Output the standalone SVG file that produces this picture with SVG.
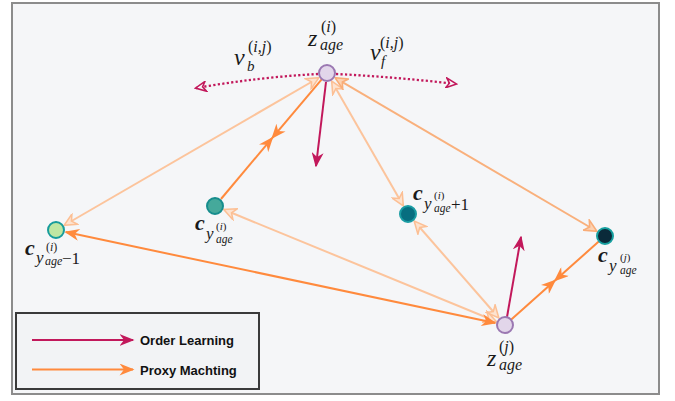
<svg xmlns="http://www.w3.org/2000/svg" width="675" height="401" viewBox="0 0 675 401">
<style>
.frame{fill:#f5f6f8;stroke:#8c8c8c;stroke-width:2}
.legend{fill:#f2f3f5;stroke:#3a3a3a;stroke-width:2}
.ord{stroke:#c2185b;stroke-width:2;fill:none}
.dot{stroke:#c2185b;stroke-width:2.3;fill:none;stroke-dasharray:2.2 2.3}
.lt{stroke:#fcc49c;stroke-width:2;fill:none}
.md{stroke:#f9b07c;stroke-width:2;fill:none}
.pm{stroke:#ff8a3d;stroke-width:2;fill:none}
.m{font-family:"Liberation Serif",serif;font-style:italic;fill:#1a1a1a}
.n{font-style:normal}
.b{font-weight:bold}
.lg{font-family:"Liberation Sans",Arial,sans-serif;font-weight:bold;font-size:13px;fill:#111}
.nz{fill:#e2d6ea;stroke:#9b78b2;stroke-width:2}
</style>
<defs>
<marker id="ac" viewBox="0 0 10 8" refX="9" refY="4" markerWidth="15" markerHeight="12" markerUnits="userSpaceOnUse" orient="auto"><path d="M0,0 L10,4 L0,8 L3,4 z" fill="#c2185b"/></marker>
<marker id="ao" viewBox="0 0 10 8" refX="9" refY="4" markerWidth="16" markerHeight="12" markerUnits="userSpaceOnUse" orient="auto-start-reverse"><path d="M0,0 L10,4 L0,8 L3,4 z" fill="#ff8a3d"/></marker>
<marker id="ad" viewBox="0 0 10 10" refX="9" refY="5" markerWidth="13" markerHeight="11" markerUnits="userSpaceOnUse" orient="auto-start-reverse"><path d="M0,0.5 L9.5,5 L0,9.5 L3,5 z" fill="#f8f8fa" stroke="#c2185b" stroke-width="1.4" stroke-dasharray="none"/></marker>
<marker id="al" viewBox="0 0 10 10" refX="9" refY="5" markerWidth="15" markerHeight="13" markerUnits="userSpaceOnUse" orient="auto-start-reverse"><path d="M0,0.5 L9.5,5 L0,9.5 L3,5 z" fill="#fde3d0" stroke="#fcbf94" stroke-width="1.2"/></marker>
<marker id="am" viewBox="0 0 10 10" refX="9" refY="5" markerWidth="15" markerHeight="13" markerUnits="userSpaceOnUse" orient="auto-start-reverse"><path d="M0,0.5 L9.5,5 L0,9.5 L3,5 z" fill="#fcd2b2" stroke="#f9ad78" stroke-width="1.2"/></marker>
</defs>
<rect class="frame" x="12" y="3" width="647" height="391"/>

<g id="connectors">
<line class="lt" x1="318.3" y1="78" x2="64.7" y2="225" marker-start="url(#al)" marker-end="url(#al)"/>
<line class="lt" x1="332" y1="81.7" x2="403" y2="205.3" marker-start="url(#al)" marker-end="url(#al)"/>
<line class="md" x1="335.6" y1="78.1" x2="596.4" y2="231" marker-start="url(#am)" marker-end="url(#am)"/>
<line class="lt" x1="498.4" y1="317.5" x2="414.6" y2="221.5" marker-start="url(#al)" marker-end="url(#al)"/>
<line class="lt" x1="495.7" y1="321.2" x2="224.3" y2="209.8" marker-start="url(#al)" marker-end="url(#al)"/>
<line class="pm" x1="495.2" y1="322.9" x2="65.8" y2="232.1" marker-start="url(#ao)" marker-end="url(#ao)"/>
<line class="pm" x1="221" y1="199" x2="272.3" y2="137.9" marker-end="url(#ao)"/>
<line class="pm" x1="321.9" y1="79.1" x2="272.3" y2="137.9" marker-end="url(#ao)"/>
<line class="pm" x1="511" y1="319.7" x2="555" y2="280.5" marker-end="url(#ao)"/>
<line class="pm" x1="599" y1="241.3" x2="555" y2="280.5" marker-end="url(#ao)"/>
<line class="ord" x1="326" y1="82" x2="316" y2="166" marker-end="url(#ac)"/>
<line class="ord" x1="507" y1="317" x2="521" y2="237" marker-end="url(#ac)"/>
<path class="dot" d="M318,74 Q260,77 196,88" marker-end="url(#ad)"/>
<path class="dot" d="M336,74 Q396,77 456,84" marker-end="url(#ad)"/>
</g>

<g id="z_i">
<circle class="nz" cx="327" cy="73" r="8"/>
<text class="m"><tspan x="308" y="46" font-size="24">z</tspan><tspan x="320" y="50" font-size="16">age</tspan><tspan x="321" y="32" font-size="16" class="n">(</tspan><tspan font-size="16">i</tspan><tspan font-size="16" class="n">)</tspan></text>
</g>
<g id="v_b">
<text class="m"><tspan x="234" y="65" font-size="24">v</tspan><tspan x="247" y="71" font-size="15">b</tspan><tspan x="248" y="52" font-size="16" class="n">(</tspan><tspan font-size="16">i,j</tspan><tspan font-size="16" class="n">)</tspan></text>
</g>
<g id="v_f">
<text class="m"><tspan x="370" y="60" font-size="24">v</tspan><tspan x="381" y="66" font-size="15">f</tspan><tspan x="380" y="48" font-size="16" class="n">(</tspan><tspan font-size="16">i,j</tspan><tspan font-size="16" class="n">)</tspan></text>
</g>
<g id="z_j">
<circle class="nz" cx="505" cy="325" r="8"/>
<text class="m"><tspan x="487" y="366" font-size="24">z</tspan><tspan x="499" y="370" font-size="16">age</tspan><tspan x="499" y="352" font-size="16" class="n">(</tspan><tspan font-size="16">j</tspan><tspan font-size="16" class="n">)</tspan></text>
</g>
<g id="c_ym1">
<circle cx="56" cy="230" r="8" fill="#bfe7a3" stroke="#179c9c" stroke-width="2"/>
<text class="m"><tspan x="25" y="255" font-size="22" class="b">c</tspan><tspan x="36" y="263" font-size="17">y</tspan><tspan x="46" y="251" font-size="12" class="n">(</tspan><tspan font-size="12">i</tspan><tspan font-size="12" class="n">)</tspan><tspan x="45" y="265" font-size="12">age</tspan><tspan x="62" y="264" font-size="17" class="n">−1</tspan></text>
</g>
<g id="c_y">
<circle cx="215" cy="206" r="8" fill="#45a99b" stroke="#168d8d" stroke-width="2"/>
<text class="m"><tspan x="195" y="230" font-size="22" class="b">c</tspan><tspan x="206" y="239" font-size="17">y</tspan><tspan x="216" y="230" font-size="11" class="n">(</tspan><tspan font-size="11">i</tspan><tspan font-size="11" class="n">)</tspan><tspan x="216" y="243" font-size="11.5">age</tspan></text>
</g>
<g id="c_yp1">
<circle cx="408" cy="214" r="8" fill="#076e80" stroke="#1a9ca3" stroke-width="2"/>
<text class="m"><tspan x="413" y="200" font-size="22" class="b">c</tspan><tspan x="424" y="209" font-size="17">y</tspan><tspan x="434" y="199" font-size="11" class="n">(</tspan><tspan font-size="11">i</tspan><tspan font-size="11" class="n">)</tspan><tspan x="434" y="212" font-size="11.5">age</tspan><tspan x="451" y="210" font-size="17" class="n">+1</tspan></text>
</g>
<g id="c_yj">
<circle cx="605" cy="236" r="8" fill="#0a2a3a" stroke="#16a0a0" stroke-width="2"/>
<text class="m"><tspan x="598" y="262" font-size="22" class="b">c</tspan><tspan x="609" y="271" font-size="17">y</tspan><tspan x="620" y="261" font-size="11" class="n">(</tspan><tspan font-size="11">j</tspan><tspan font-size="11" class="n">)</tspan><tspan x="620" y="274" font-size="11.5">age</tspan></text>
</g>

<g id="legend">
<rect class="legend" x="16" y="313" width="243" height="76"/>
<line class="ord" x1="32" y1="340" x2="133" y2="340" marker-end="url(#ac)"/>
<text class="lg" x="140" y="345">Order Learning</text>
<line class="pm" x1="32" y1="369.5" x2="133" y2="369.5" marker-end="url(#ao)"/>
<text class="lg" x="140" y="375">Proxy Machting</text>
</g>
</svg>
